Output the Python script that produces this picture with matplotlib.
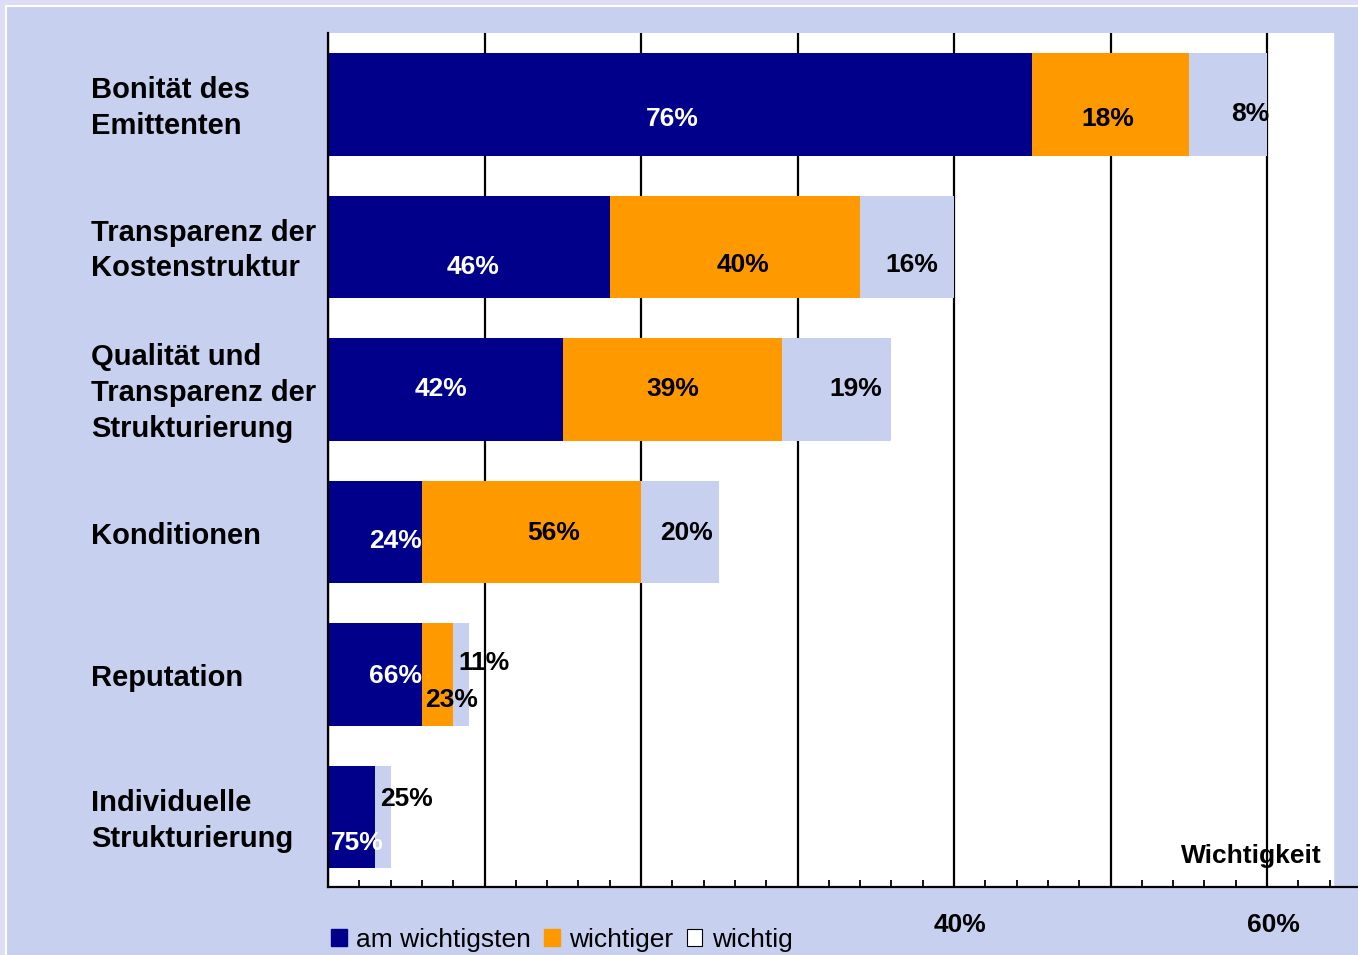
import matplotlib
matplotlib.use('Agg')
import matplotlib.pyplot as plt
import matplotlib.transforms as mtransforms
from matplotlib.patches import Rectangle, Patch
import numpy as np

plt.rcParams['font.family'] = ['Liberation Sans', 'DejaVu Sans']

categories = ['Bonität des\nEmittenten', 'Transparenz der\nKostenstruktur',
              'Qualität und\nTransparenz der\nStrukturierung', 'Konditionen',
              'Reputation', 'Individuelle\nStrukturierung']
# bar lengths on the "Wichtigkeit" axis (percent)
am_wichtigsten = np.array([45, 18, 15, 6, 6, 3])
wichtiger = np.array([10, 16, 14, 14, 2, 0])
wichtig = np.array([5, 6, 7, 5, 1, 1])
# printed shares inside the bars
lab_am = ['76%', '46%', '42%', '24%', '66%', '75%']
lab_wr = ['18%', '40%', '39%', '56%', '23%', '']
lab_w = ['8%', '16%', '19%', '20%', '11%', '25%']
series_names = ['am wichtigsten', 'wichtiger', 'wichtig']

navy = '#00008B'
orange = '#FF9900'
lav = '#C8D0F0'

# label nudges (dx in %, dy in rows)
nudge_am = [(-0.5, 0.10), (0.3, 0.14), (-0.3, 0.0), (1.3, 0.06), (1.3, 0.01), (0.35, 0.18)]
nudge_wr = [(-0.2, 0.10), (0.5, 0.13), (0.0, 0.0), (1.4, 0.01), (0.9, 0.18), (0, 0)]
nudge_w = [(1.4, 0.07), (0.3, 0.13), (1.2, 0.0), (0.4, 0.01), (1.5, -0.08), (1.5, -0.13)]

W, H = 1358, 955
fig = plt.figure(figsize=(W / 100, H / 100), dpi=100, facecolor='#DDDDF7')
fig.patches.append(Rectangle((6 / W, -0.5), 2, 1.5 - 6 / H, transform=fig.transFigure,
                             facecolor=lav, edgecolor='white', linewidth=1.5, zorder=-10))

ax = fig.add_axes([328 / W, (H - 887) / H, 1030 / W, 854 / H])
ax.set_zorder(1)
ax.set_facecolor(lav)
ax.axvspan(0, 64.2, color='white', zorder=0)

y = np.arange(len(categories))
ax.barh(y, am_wichtigsten, height=0.72, color=navy, zorder=2)
ax.barh(y, wichtiger, left=am_wichtigsten, height=0.72, color=orange, zorder=2)
ax.barh(y, wichtig, left=am_wichtigsten + wichtiger, height=0.72, color=lav, zorder=2)

fs = 19
for i in y:
    starts = [0, am_wichtigsten[i], am_wichtigsten[i] + wichtiger[i]]
    widths = [am_wichtigsten[i], wichtiger[i], wichtig[i]]
    for s, w, lab, nd, col in zip(starts, widths, [lab_am[i], lab_wr[i], lab_w[i]],
                                  [nudge_am[i], nudge_wr[i], nudge_w[i]],
                                  ['white', 'black', 'black']):
        if lab:
            ax.text(s + w / 2 + nd[0], i + nd[1], lab, ha='center', va='center',
                    color=col, fontsize=fs, fontweight='bold', zorder=4)

trans = mtransforms.blended_transform_factory(fig.transFigure, ax.transData)
for i, c in enumerate(categories):
    ax.text(91 / W, i + 0.025, c, transform=trans, ha='left', va='center',
            fontsize=21, fontweight='bold', linespacing=1.35, clip_on=False)

ax.text(63.5, 5.27, 'Wichtigkeit', ha='right', va='center', fontsize=fs,
        fontweight='bold', zorder=4)

ax.set_xlim(0, 1030 / 15.65)
ax.set_ylim(5.49, -0.5)
ax.set_yticks([])
ax.set_xticks(np.arange(0, 61, 10))
ax.set_xticklabels(['', '', '', '', '40%', '', '60%'], fontsize=fs, fontweight='bold')
ax.set_xticks(np.arange(0, 65, 2), minor=True)
ax.tick_params(axis='x', which='both', direction='in', length=5, width=1.3, pad=18.5)
ax.xaxis.grid(True, which='major', color='black', linewidth=1.6, zorder=1)
ax.set_axisbelow(True)
for lbl in ax.get_xticklabels():
    lbl.set_transform(lbl.get_transform() + mtransforms.ScaledTranslation(0.06, 0, fig.dpi_scale_trans))
for s in ['top', 'right']:
    ax.spines[s].set_visible(False)
for s in ['left', 'bottom']:
    ax.spines[s].set_color('black')
    ax.spines[s].set_linewidth(1.6)

handles = [Patch(facecolor=navy, edgecolor=navy),
           Patch(facecolor=orange, edgecolor=orange),
           Patch(facecolor='white', edgecolor='black', linewidth=0.8)]
fig.legend(handles, series_names, loc='center left', bbox_to_anchor=(331 / W, 1 - 940 / H),
           ncol=3, frameon=False, fontsize=fs, handlelength=0.6, handleheight=0.6,
           handletextpad=0.35, columnspacing=0.5, borderpad=0, borderaxespad=0)

fig.savefig('out.png', dpi=100, facecolor=fig.get_facecolor())
